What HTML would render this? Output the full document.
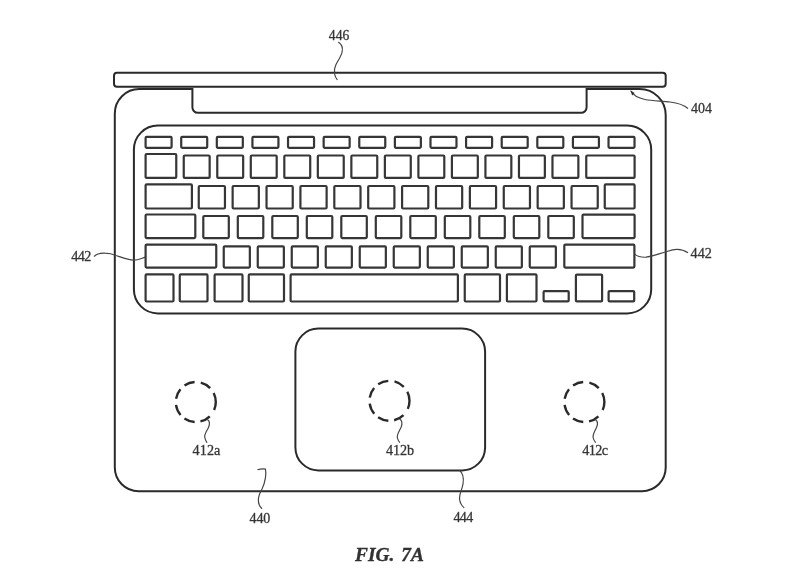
<!DOCTYPE html>
<html><head><meta charset="utf-8">
<style>
html,body{margin:0;padding:0;background:#fff;}
body{width:800px;height:574px;overflow:hidden;}
svg{display:block;filter:grayscale(1) blur(0.3px);}
text{font-family:"Liberation Serif",serif;fill:#333;}
</style></head><body>
<svg width="800" height="574" viewBox="0 0 800 574">
<g fill="none" stroke="#2a2a2a" stroke-width="2">
<rect x="114" y="72.7" width="551.7" height="14.1" rx="3"/>
<path d="M114.8 113.5 L114.8 467.5 A23.7 23.7 0 0 0 138.5 491.2 L642 491.2 A23.7 23.7 0 0 0 665.7 467.5 L665.7 115 A26 26 0 0 0 639.7 89 L586.6 89 L586.6 107.3 A5.5 5.5 0 0 1 581.1 112.8 L197.9 112.8 A5.5 5.5 0 0 1 192.4 107.3 L192.4 89 L139.3 89 A24.5 24.5 0 0 0 114.8 113.5 Z"/>
<rect x="133.9" y="125.6" width="517.3" height="187.8" rx="24"/>
<rect x="295.4" y="328.6" width="189.7" height="141.8" rx="23"/>
</g>
<g fill="none" stroke="#363636" stroke-width="2.2">
<rect x="145.60" y="136.90" width="26.00" height="10.90" rx="1.0"/>
<rect x="181.21" y="136.90" width="26.00" height="10.90" rx="1.0"/>
<rect x="216.82" y="136.90" width="26.00" height="10.90" rx="1.0"/>
<rect x="252.43" y="136.90" width="26.00" height="10.90" rx="1.0"/>
<rect x="288.04" y="136.90" width="26.00" height="10.90" rx="1.0"/>
<rect x="323.65" y="136.90" width="26.00" height="10.90" rx="1.0"/>
<rect x="359.26" y="136.90" width="26.00" height="10.90" rx="1.0"/>
<rect x="394.87" y="136.90" width="26.00" height="10.90" rx="1.0"/>
<rect x="430.48" y="136.90" width="26.00" height="10.90" rx="1.0"/>
<rect x="466.09" y="136.90" width="26.00" height="10.90" rx="1.0"/>
<rect x="501.70" y="136.90" width="26.00" height="10.90" rx="1.0"/>
<rect x="537.31" y="136.90" width="26.00" height="10.90" rx="1.0"/>
<rect x="572.92" y="136.90" width="26.00" height="10.90" rx="1.0"/>
<rect x="608.53" y="136.90" width="26.00" height="10.90" rx="1.0"/>
<rect x="145.60" y="154.00" width="30.65" height="23.90" rx="1.0"/>
<rect x="183.75" y="155.50" width="25.90" height="22.40" rx="1.0"/>
<rect x="217.27" y="155.50" width="25.90" height="22.40" rx="1.0"/>
<rect x="250.79" y="155.50" width="25.90" height="22.40" rx="1.0"/>
<rect x="284.31" y="155.50" width="25.90" height="22.40" rx="1.0"/>
<rect x="317.83" y="155.50" width="25.90" height="22.40" rx="1.0"/>
<rect x="351.35" y="155.50" width="25.90" height="22.40" rx="1.0"/>
<rect x="384.87" y="155.50" width="25.90" height="22.40" rx="1.0"/>
<rect x="418.39" y="155.50" width="25.90" height="22.40" rx="1.0"/>
<rect x="451.91" y="155.50" width="25.90" height="22.40" rx="1.0"/>
<rect x="485.43" y="155.50" width="25.90" height="22.40" rx="1.0"/>
<rect x="518.95" y="155.50" width="25.90" height="22.40" rx="1.0"/>
<rect x="552.47" y="155.50" width="25.90" height="22.40" rx="1.0"/>
<rect x="586.25" y="155.50" width="48.35" height="22.40" rx="1.0"/>
<rect x="145.60" y="184.40" width="46.30" height="24.10" rx="1.0"/>
<rect x="198.75" y="186.00" width="26.20" height="22.50" rx="1.0"/>
<rect x="232.64" y="186.00" width="26.20" height="22.50" rx="1.0"/>
<rect x="266.53" y="186.00" width="26.20" height="22.50" rx="1.0"/>
<rect x="300.42" y="186.00" width="26.20" height="22.50" rx="1.0"/>
<rect x="334.31" y="186.00" width="26.20" height="22.50" rx="1.0"/>
<rect x="368.20" y="186.00" width="26.20" height="22.50" rx="1.0"/>
<rect x="402.09" y="186.00" width="26.20" height="22.50" rx="1.0"/>
<rect x="435.98" y="186.00" width="26.20" height="22.50" rx="1.0"/>
<rect x="469.87" y="186.00" width="26.20" height="22.50" rx="1.0"/>
<rect x="503.76" y="186.00" width="26.20" height="22.50" rx="1.0"/>
<rect x="537.65" y="186.00" width="26.20" height="22.50" rx="1.0"/>
<rect x="571.54" y="186.00" width="26.20" height="22.50" rx="1.0"/>
<rect x="604.75" y="184.40" width="29.85" height="24.10" rx="1.0"/>
<rect x="145.60" y="214.50" width="49.70" height="23.60" rx="1.0"/>
<rect x="203.30" y="216.00" width="25.50" height="22.10" rx="1.0"/>
<rect x="237.80" y="216.00" width="25.50" height="22.10" rx="1.0"/>
<rect x="272.30" y="216.00" width="25.50" height="22.10" rx="1.0"/>
<rect x="306.80" y="216.00" width="25.50" height="22.10" rx="1.0"/>
<rect x="341.30" y="216.00" width="25.50" height="22.10" rx="1.0"/>
<rect x="375.80" y="216.00" width="25.50" height="22.10" rx="1.0"/>
<rect x="410.30" y="216.00" width="25.50" height="22.10" rx="1.0"/>
<rect x="444.80" y="216.00" width="25.50" height="22.10" rx="1.0"/>
<rect x="479.30" y="216.00" width="25.50" height="22.10" rx="1.0"/>
<rect x="513.80" y="216.00" width="25.50" height="22.10" rx="1.0"/>
<rect x="548.30" y="216.00" width="25.50" height="22.10" rx="1.0"/>
<rect x="582.50" y="214.60" width="52.10" height="23.50" rx="1.0"/>
<rect x="145.60" y="244.70" width="70.65" height="22.90" rx="1.0"/>
<rect x="223.75" y="246.30" width="26.10" height="21.30" rx="1.0"/>
<rect x="257.75" y="246.30" width="26.10" height="21.30" rx="1.0"/>
<rect x="291.75" y="246.30" width="26.10" height="21.30" rx="1.0"/>
<rect x="325.75" y="246.30" width="26.10" height="21.30" rx="1.0"/>
<rect x="359.75" y="246.30" width="26.10" height="21.30" rx="1.0"/>
<rect x="393.75" y="246.30" width="26.10" height="21.30" rx="1.0"/>
<rect x="427.75" y="246.30" width="26.10" height="21.30" rx="1.0"/>
<rect x="461.75" y="246.30" width="26.10" height="21.30" rx="1.0"/>
<rect x="495.75" y="246.30" width="26.10" height="21.30" rx="1.0"/>
<rect x="529.75" y="246.30" width="26.10" height="21.30" rx="1.0"/>
<rect x="564.30" y="244.70" width="70.10" height="22.90" rx="1.0"/>
<rect x="145.60" y="274.40" width="27.90" height="27.10" rx="1.0"/>
<rect x="179.75" y="274.40" width="27.75" height="27.10" rx="1.0"/>
<rect x="214.60" y="274.40" width="27.90" height="27.10" rx="1.0"/>
<rect x="248.75" y="274.40" width="35.25" height="27.10" rx="1.0"/>
<rect x="290.60" y="274.40" width="167.30" height="27.10" rx="1.0"/>
<rect x="464.75" y="274.40" width="35.25" height="27.10" rx="1.0"/>
<rect x="506.90" y="274.40" width="29.60" height="27.10" rx="1.0"/>
<rect x="543.60" y="291.10" width="25.10" height="10.30" rx="1.0"/>
<rect x="575.90" y="274.60" width="26.20" height="26.80" rx="1.0"/>
<rect x="608.60" y="291.10" width="25.60" height="10.30" rx="1.0"/>
</g>
<g fill="none" stroke="#2a2a2a" stroke-width="2.4" stroke-dasharray="8.27 7.54 10.64 5.97 10.85 5.17 11.03 6.28 10.5 5.41 10.71 6.39 10.75 6.0 10.12 2">
<circle cx="195.8" cy="402" r="20"/>
<circle cx="389.5" cy="400.8" r="20"/>
<circle cx="584.4" cy="402" r="20"/>
</g>
<g fill="none" stroke="#444" stroke-width="1.2">
<path d="M338.3 42 C341.5 44 342.8 48 342.2 51.5 C341.5 56 338 60.5 336 64.5 C334.5 67.5 334 71 334.6 74 C335 76.5 336.3 78.5 337.4 80"/>
<path d="M631 91 C633 95 638 98 645 99.5 C652 101 662 101 670 102 C678 103 684 105 688 108.5"/>
<path d="M94 256.5 C97 253.5 101 253 105 253.2 C110 253.3 113 254.3 116 255.5 C122 257.5 128 260 133.5 260.2 C138 260.3 141 258.5 145.2 257.1"/>
<path d="M635 254.4 C637 256 641 257.5 646 257.2 C655 256 660 253 667 251.5 C673 249.5 680 247.3 688 252.8"/>
<path d="M399.7 419.1 C401.8 420.5 402.6 423.5 401 427.5 C399 431.5 396.8 434.5 397.3 437.5 C397.8 440 398.8 441.5 399.7 442.7"/>
<path d="M207.4 419.6 C209.5 421 210 424 208.5 427.5 C206.5 431.5 204 434.5 204.8 437.5 C205.3 440 206.3 441.5 207 442.7"/>
<path d="M595.3 419.6 C597.4 421 598.1 424 596.5 427.5 C594.5 431.5 592.6 434.5 593.1 437.5 C593.6 440 594.6 441.5 595.7 442.7"/>
<path d="M257.4 469.8 C260 469 263 468.5 265.4 469.1 C266.5 473 265.5 482 262 489 C258 496 256 503 262 508.8"/>
<path d="M459.3 470.2 C463 473 464 478 463 484 C462 490 459 494 459.5 499 C460 503 462 506 464.2 507.9"/>
</g>
<path d="M630.3 90.3 L634.6 93 L632.2 95.6 Z" fill="#333"/>
<g font-size="14.2" fill="#333" stroke="#3a3a3a" stroke-width="0.3">
<text x="328.7" y="40.2" font-size="13.6" textLength="20.7" lengthAdjust="spacing">446</text>
<text x="691" y="112.8" font-size="14" textLength="21" lengthAdjust="spacing">404</text>
<text x="71.25" y="261.3" textLength="20" lengthAdjust="spacing">442</text>
<text x="690.6" y="257.7" textLength="21.3" lengthAdjust="spacing">442</text>
<text x="192.6" y="455.2" textLength="27.8" lengthAdjust="spacing">412a</text>
<text x="385.9" y="455.2" textLength="28.2" lengthAdjust="spacing">412b</text>
<text x="582.2" y="455.3" textLength="25.8" lengthAdjust="spacing">412c</text>
<text x="249.5" y="522.7" font-size="14" textLength="20.8" lengthAdjust="spacing">440</text>
<text x="453.4" y="522.4" font-size="14" textLength="19.8" lengthAdjust="spacing">444</text>
</g>
<g font-size="19.4" font-weight="bold" font-style="italic" stroke="#2a2a2a" stroke-width="0.3" fill="#2a2a2a">
<text x="355" y="560.6">FIG.</text>
<text x="401.2" y="560.6">7A</text>
</g>
</svg>
</body></html>
